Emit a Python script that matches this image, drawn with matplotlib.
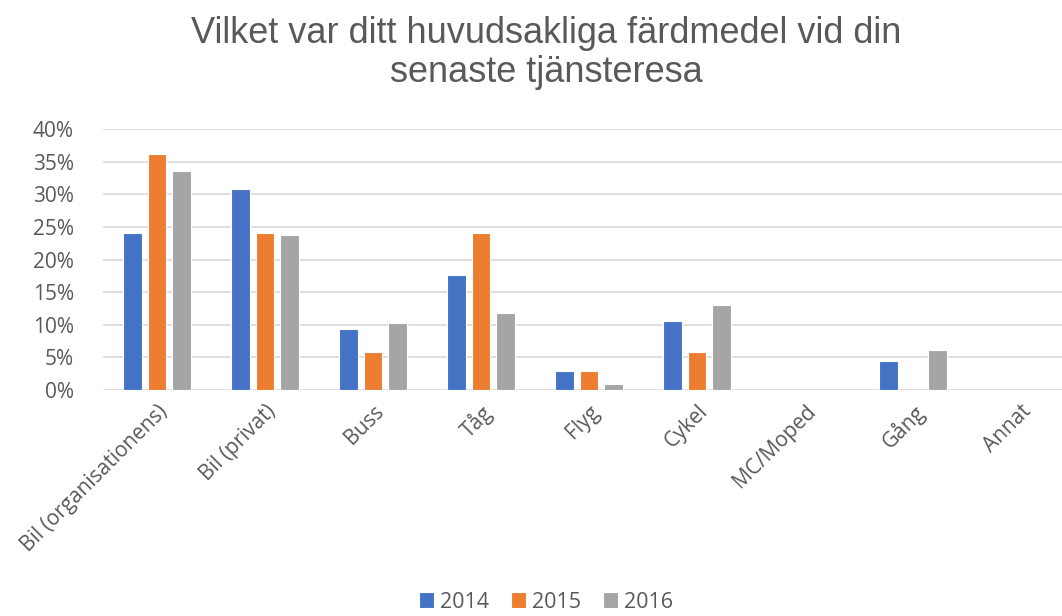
import matplotlib
matplotlib.use('Agg')
import matplotlib.pyplot as plt
import numpy as np

# Data (percent)
categories = ['Bil (organisationens)', 'Bil (privat)', 'Buss', 'Tåg', 'Flyg',
              'Cykel', 'MC/Moped', 'Gång', 'Annat']
years = ['2014', '2015', '2016']
v2014 = [24.1, 30.8, 9.4, 17.6, 2.9, 10.5, 0, 4.4, 0]
v2015 = [36.1, 24.1, 5.8, 24.1, 2.9, 5.8, 0, 0, 0]
v2016 = [33.5, 23.7, 10.2, 11.8, 0.9, 13.1, 0, 6.2, 0]
colors = ['#4472C4', '#ED7D31', '#A5A5A5']

txt = '#595959'
tick_font = 'Open Sans'

fig = plt.figure(figsize=(10.62, 6.16), dpi=100)
ax = fig.add_axes([103/1062, 226/616, 972/1062, 261/616])

x = np.arange(len(categories))
w = 0.175
step = 0.225
for i, (vals, c, lab) in enumerate(zip([v2014, v2015, v2016], colors, years)):
    ax.bar(x + (i - 1)*step, vals, width=w, color=c, label=lab,
           edgecolor='white', linewidth=0.8, zorder=3)

ax.set_xlim(-0.5, len(categories) - 0.5)
ax.set_ylim(0, 40)
ax.set_yticks(np.arange(0, 41, 5))
ax.set_yticklabels(['%d%%' % v for v in range(0, 41, 5)],
                   fontsize=15, color=txt, family=tick_font)
ax.set_xticks(x)
ax.set_xticklabels(categories, rotation=45, ha='right', rotation_mode='anchor',
                   fontsize=15, color=txt, family=tick_font)
ax.tick_params(axis='both', length=0)
ax.tick_params(axis='y', pad=21)
ax.tick_params(axis='x', pad=8)
ax.grid(axis='y', color='#D9D9D9', linewidth=1.2, zorder=0)
for s in ax.spines.values():
    s.set_visible(False)

fig.text(546/1062, 1 - 53/616,
         'Vilket var ditt huvudsakliga färdmedel vid din\nsenaste tjänsteresa',
         ha='center', va='center', fontsize=26, color=txt,
         family='Liberation Sans', linespacing=1.15)

leg = fig.legend(loc='center', bbox_to_anchor=(546/1062, 14/616), ncol=3,
                 frameon=False, handlelength=0.7, handleheight=0.7,
                 handletextpad=0.3, columnspacing=1.0, borderpad=0.1,
                 prop={'family': tick_font, 'size': 15.5})
for t in leg.get_texts():
    t.set_color(txt)

fig.savefig('out.png', dpi=100)
